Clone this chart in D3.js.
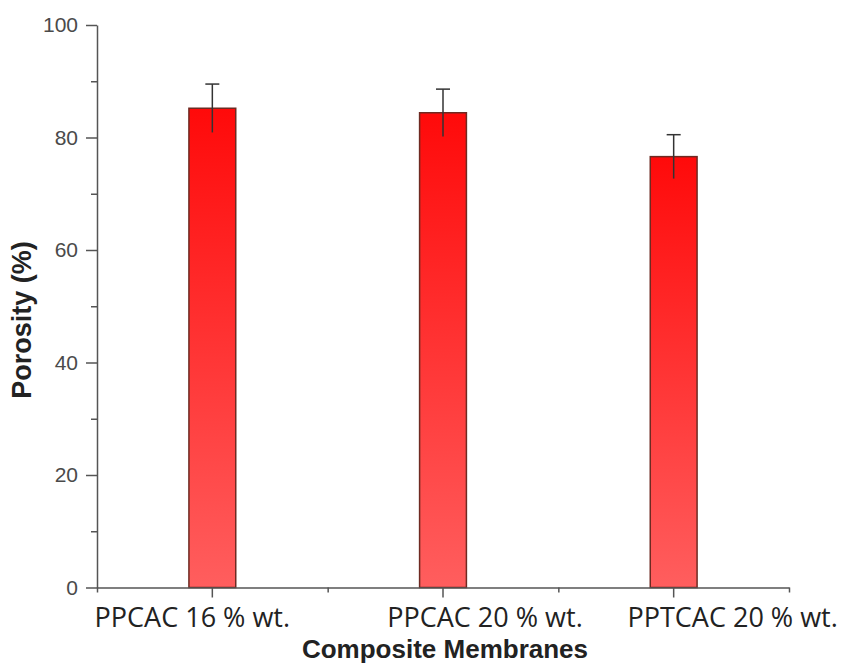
<!DOCTYPE html>
<html>
<head>
<meta charset="utf-8">
<script src="https://cdn.jsdelivr.net/npm/d3@7"></script>
<style>
  html, body { margin: 0; padding: 0; background: #fff; }
  svg { display: block; }
</style>
</head>
<body>
<svg id="chart" width="845" height="668"></svg>
<script>
// ---- data ----
const categories = ["PPCAC 16 % wt.", "PPCAC 20 % wt.", "PPTCAC 20 % wt."];
const porosity = [85.2, 84.4, 76.6];
const errors = [4.3, 4.2, 3.9];
const yMajorTicks = [0, 20, 40, 60, 80, 100];
const yMinorTicks = [10, 30, 50, 70, 90];
const xTitle = "Composite Membranes";
const yTitle = "Porosity (%)";

(function () {
// ---- layout ----
const svg = d3.select("#chart");
const mLeft = 97, mRight = 789, mTop = 25, mBottom = 587.5;
// the category labels in the original are placed by hand, offset from their ticks
const labelShift = [-20, 42, 59];

const x = d3.scaleBand().domain(categories).range([mLeft, mRight])
  .paddingInner(0.797).paddingOuter(0.797 / 2);
const y = d3.scaleLinear().domain([0, 100]).range([mBottom, mTop]);

// gradient
const defs = svg.append("defs");
const grad = defs.append("linearGradient").attr("id", "barGrad")
  .attr("x1", 0).attr("y1", 0).attr("x2", 0).attr("y2", 1);
grad.append("stop").attr("offset", "0%").attr("stop-color", "#ff0a0a");
grad.append("stop").attr("offset", "100%").attr("stop-color", "#ff5e5e");

// bars
svg.append("g").selectAll("rect").data(categories).join("rect")
  .attr("x", d => x(d))
  .attr("y", (d, i) => y(porosity[i]))
  .attr("width", x.bandwidth())
  .attr("height", (d, i) => y(0) - y(porosity[i]))
  .attr("fill", "url(#barGrad)")
  .attr("stroke", "#6e2a22")
  .attr("stroke-width", 1.5);

// error bars
const eg = svg.append("g").attr("stroke", "#333").attr("stroke-width", 1.5);
categories.forEach((c, i) => {
  const cx = x(c) + x.bandwidth() / 2;
  eg.append("line").attr("x1", cx).attr("x2", cx)
    .attr("y1", y(porosity[i] - errors[i])).attr("y2", y(porosity[i] + errors[i]));
  eg.append("line").attr("x1", cx - 7).attr("x2", cx + 7)
    .attr("y1", y(porosity[i] + errors[i])).attr("y2", y(porosity[i] + errors[i]));
});

// y axis
const yAxisG = svg.append("g").attr("transform", `translate(${mLeft},0)`)
  .call(d3.axisLeft(y).tickValues(yMajorTicks).tickSize(11).tickPadding(8).tickSizeOuter(0));
svg.append("g").attr("transform", `translate(${mLeft},0)`)
  .call(d3.axisLeft(y).tickValues(yMinorTicks).tickSize(6).tickFormat("").tickSizeOuter(0))
  .select(".domain").remove();
yAxisG.selectAll("text")
  .attr("font-family", "Liberation Sans, Arial, sans-serif")
  .attr("font-size", 21).attr("fill", "#4a4a4a");

// x axis
const xAxisG = svg.append("g").attr("transform", `translate(0,${mBottom})`)
  .call(d3.axisBottom(x).tickSize(10).tickPadding(10).tickSizeOuter(0));
const boundaries = d3.range(categories.length + 1).map(i => mLeft + i * x.step());
const xMinor = d3.scaleLinear().domain([mLeft, mRight]).range([mLeft, mRight]);
svg.append("g").attr("transform", `translate(0,${mBottom})`)
  .call(d3.axisBottom(xMinor).tickValues(boundaries).tickSize(5).tickFormat("").tickSizeOuter(0))
  .select(".domain").remove();
xAxisG.selectAll("text")
  .attr("font-family", "Open Sans, sans-serif")
  .attr("font-size", 27).attr("fill", "#222")
  .attr("dx", (d, i) => labelShift[i]);

svg.selectAll(".domain, .tick line").attr("stroke", "#555").attr("stroke-width", 1.5);

// titles
svg.append("text").attr("x", 445).attr("y", 658)
  .attr("text-anchor", "middle")
  .attr("font-family", "Liberation Sans, Arial, sans-serif")
  .attr("font-weight", "bold").attr("font-size", 26).attr("fill", "#222")
  .text(xTitle);
svg.append("text")
  .attr("transform", "translate(31,320) rotate(-90)")
  .attr("text-anchor", "middle")
  .attr("font-family", "Liberation Sans, Arial, sans-serif")
  .attr("font-weight", "bold").attr("font-size", 27).attr("fill", "#222")
  .text(yTitle);
})();
</script>
</body>
</html>
